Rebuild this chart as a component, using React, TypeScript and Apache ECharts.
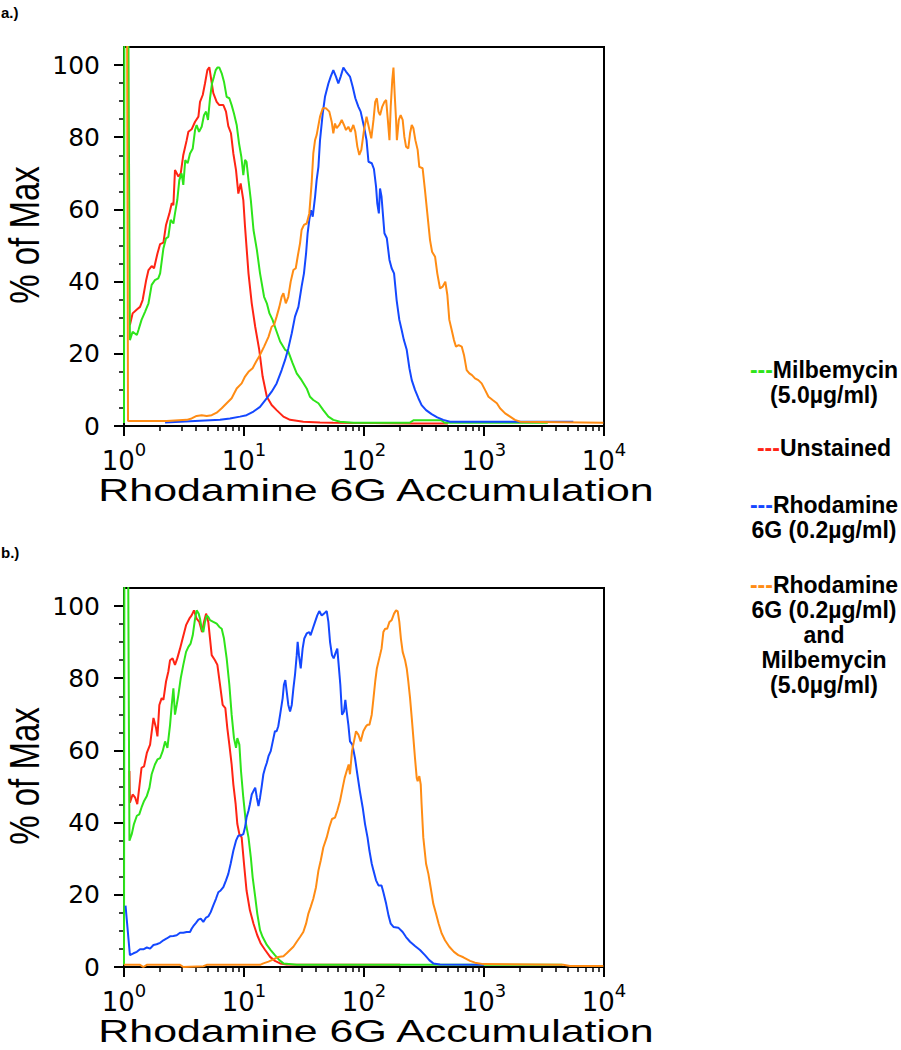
import React, { useEffect, useRef } from "react";
import * as echarts from "echarts";

// ---------- data (x = fluorescence, y = % of max) ----------
const aUnstained: [number, number][] = [
  [1.12, 28.0], [1.18, 31.2], [1.28, 32.3], [1.36, 33.0], [1.43, 34.9], [1.53, 40.4], [1.6, 43.2], [1.7, 44.3], [1.78, 43.7], [1.9, 47.8],
  [2.0, 50.4], [2.13, 50.8], [2.24, 55.7], [2.39, 58.9], [2.5, 61.7], [2.58, 61.2], [2.66, 70.9], [2.84, 69.1], [2.97, 70.0], [3.12, 75.1],
  [3.33, 79.2], [3.44, 81.5], [3.66, 82.2], [3.91, 84.3], [4.17, 85.7], [4.3, 89.8], [4.53, 91.7], [4.73, 94.9], [4.95, 98.6], [5.14, 99.4],
  [5.34, 95.8], [5.55, 92.2], [5.92, 89.8], [6.23, 88.9], [6.73, 88.9], [7.08, 87.1], [7.4, 83.1], [7.79, 81.1], [8.15, 75.5], [8.58, 70.9],
  [8.97, 64.4], [9.38, 67.2], [9.87, 62.6], [10.2, 55.2], [10.9, 42.3], [11.6, 34.0], [12.4, 27.5], [13.4, 21.1], [14.3, 13.7], [15.5, 8.1],
  [17.0, 5.8], [18.7, 4.4], [21.3, 2.6], [24.2, 1.7], [31.2, 1.2], [43.0, 1.0], [55.5, 0.9], [120, 0.8], [250, 0.7], [500, 0.7],
];
const aMilbemycin: [number, number][] = [
  [1.0, 0.8], [1.02, 300], [1.12, 23.8], [1.18, 26.1], [1.28, 25.2], [1.32, 26.6], [1.4, 29.4], [1.5, 31.7], [1.6, 34.0], [1.7, 39.1],
  [1.81, 40.4], [1.93, 40.9], [2.0, 42.3], [2.13, 49.2], [2.24, 52.0], [2.34, 52.4], [2.45, 57.1], [2.58, 56.1], [2.66, 58.9], [2.78, 62.6],
  [2.89, 68.1], [3.02, 70.0], [3.12, 66.8], [3.24, 73.7], [3.39, 72.8], [3.55, 75.5], [3.74, 76.9], [3.91, 82.0], [4.03, 83.4], [4.22, 81.5],
  [4.44, 82.9], [4.64, 86.1], [4.83, 87.1], [5.01, 84.8], [5.21, 90.8], [5.41, 94.9], [5.62, 96.8], [5.81, 98.6], [6.0, 99.3], [6.23, 99.3],
  [6.52, 97.7], [6.81, 95.4], [7.17, 91.2], [7.55, 90.8], [7.89, 88.9], [8.25, 86.6], [8.69, 83.4], [9.09, 78.3], [9.5, 74.6], [9.87, 69.5],
  [10.2, 73.7], [10.5, 73.2], [10.9, 68.1], [11.4, 62.6], [12.0, 54.3], [12.8, 48.8], [13.6, 42.3], [14.7, 35.8], [15.5, 34.0], [16.3, 31.2],
  [17.3, 29.4], [18.5, 26.6], [20.0, 23.4], [22.0, 21.1], [23.4, 20.6], [25.4, 17.4], [27.5, 14.6], [30.2, 12.7], [33.3, 10.4], [35.5, 8.1],
  [37.8, 7.2], [41.7, 6.3], [45.8, 4.4], [50.5, 2.6], [55.5, 1.7], [63.1, 1.2], [81.5, 0.9], [240, 0.9], [260, 1.6], [440, 1.6],
  [470, 0.9], [3400, 0.9],
];
const aRhodamine: [number, number][] = [
  [2.2, 1.0], [6.31, 1.7], [7.64, 2.1], [9.26, 2.6], [10.5, 3.0], [12.0, 4.0], [13.6, 5.3], [15.5, 7.7], [17.0, 9.5], [18.7, 11.8],
  [20.6, 15.5], [22.0, 18.3], [23.4, 21.5], [25.0, 25.7], [26.6, 30.3], [28.4, 33.0], [30.2, 38.6], [31.6, 42.3], [32.9, 47.8], [33.9, 53.4],
  [35.0, 57.1], [36.2, 59.8], [37.4, 58.0], [39.1, 63.5], [40.3, 68.1], [41.7, 71.8], [43.0, 79.2], [45.3, 86.6], [47.3, 91.2], [50.5, 94.9],
  [52.8, 96.8], [55.5, 98.6], [58.4, 96.8], [61.1, 94.9], [63.9, 96.8], [67.3, 99.3], [70.8, 98.2], [76.4, 96.8], [80.5, 94.0], [84.7, 90.8],
  [89.7, 88.5], [93.8, 87.1], [100, 82.9], [105, 79.2], [109, 73.2], [116, 72.8], [121, 71.2], [126, 66.3], [129, 61.7], [133, 58.9],
  [136, 65.8], [140, 63.5], [145, 57.1], [148, 53.4], [155, 52.0], [163, 46.0], [170, 43.7], [178, 42.3], [187, 34.9], [197, 29.4],
  [206, 26.6], [215, 23.8], [227, 21.1], [239, 16.0], [250, 12.7], [266, 10.0], [284, 7.7], [302, 5.8], [329, 4.4], [366, 3.3],
  [408, 2.4], [458, 1.7], [521, 1.2], [1280, 1.2], [3440, 1.2], [5550, 1.2],
];
const aCombined: [number, number][] = [
  [1.03, 300], [1.08, 1.4], [2.27, 1.4], [3.33, 1.7], [3.66, 2.1], [4.03, 2.8], [4.44, 3.0], [4.89, 2.8], [5.38, 3.0], [5.92, 3.7],
  [6.52, 4.9], [7.17, 6.3], [7.89, 7.7], [8.69, 10.4], [9.56, 11.8], [10.2, 13.7], [10.9, 15.0], [11.8, 16.0], [12.6, 17.8], [13.6, 19.7],
  [14.7, 22.0], [16.0, 24.7], [17.0, 27.5], [17.8, 28.0], [18.7, 30.3], [19.7, 33.0], [20.6, 35.8], [21.3, 36.8], [22.3, 34.0], [23.4, 35.8],
  [24.5, 40.0], [25.8, 43.2], [27.0, 43.7], [28.0, 46.9], [29.3, 50.6], [30.2, 54.3], [31.6, 55.7], [33.3, 56.1], [35.0, 58.9], [36.6, 67.2],
  [37.8, 75.5], [39.1, 79.2], [40.3, 80.6], [43.0, 85.7], [45.3, 88.0], [48.3, 88.0], [51.4, 87.1], [53.8, 84.3], [55.5, 81.1], [57.3, 83.8],
  [59.2, 82.5], [62.3, 83.4], [65.2, 84.8], [68.1, 83.4], [70.8, 82.0], [74.1, 82.9], [77.4, 81.5], [81.5, 83.4], [84.7, 81.5], [88.0, 77.4],
  [91.4, 75.1], [95.0, 76.5], [100, 82.0], [105, 85.7], [111, 82.0], [115, 79.7], [120, 84.8], [124, 89.8], [128, 90.8], [132, 87.1],
  [136, 86.1], [142, 88.5], [148, 89.8], [153, 90.3], [158, 84.8], [163, 79.2], [167, 88.5], [172, 95.8], [176, 99.3], [180, 92.2],
  [185, 84.8], [188, 79.2], [195, 84.8], [202, 86.1], [210, 84.8], [217, 80.1], [224, 77.4], [234, 76.9], [242, 81.1], [250, 83.4],
  [258, 82.5], [268, 79.2], [280, 76.5], [289, 71.8], [308, 71.4], [322, 65.4], [337, 58.9], [355, 51.5], [369, 48.3], [391, 46.9],
  [408, 42.3], [430, 38.1], [452, 38.6], [476, 40.0], [495, 36.3], [514, 29.4], [538, 26.6], [562, 23.8], [584, 22.0], [615, 22.4],
  [652, 22.0], [681, 19.7], [717, 15.5], [755, 14.6], [794, 14.1], [841, 13.2], [897, 12.7], [956, 11.8], [1020, 10.0], [1090, 8.1],
  [1180, 7.2], [1280, 6.3], [1360, 4.9], [1500, 3.5], [1650, 2.6], [1810, 1.7], [2000, 1.2], [9870, 0.9],
];

const bUnstained: [number, number][] = [
  [1.11, 54.3], [1.12, 45.5], [1.18, 47.8], [1.24, 46.9], [1.29, 45.1], [1.34, 49.7], [1.4, 55.2], [1.47, 55.6], [1.55, 59.3], [1.65, 61.6],
  [1.76, 69.0], [1.85, 66.2], [1.9, 63.9], [1.97, 72.6], [2.06, 74.5], [2.13, 74.0], [2.24, 79.1], [2.34, 81.8], [2.42, 85.0], [2.54, 85.5],
  [2.66, 83.7], [2.78, 85.5], [2.93, 88.2], [3.08, 91.0], [3.29, 94.7], [3.5, 96.5], [3.66, 97.4], [3.83, 98.8], [4.03, 96.5], [4.24, 95.6],
  [4.47, 92.8], [4.64, 95.6], [4.83, 97.9], [5.04, 95.6], [5.21, 91.0], [5.38, 86.4], [5.73, 85.0], [6.0, 83.7], [6.31, 78.2], [6.64, 72.6],
  [6.99, 71.7], [7.26, 66.2], [7.55, 61.6], [7.89, 56.1], [8.15, 50.6], [8.52, 45.1], [8.8, 39.6], [9.15, 36.8], [9.56, 35.9], [10.0, 28.6],
  [10.5, 21.2], [11.2, 15.7], [12.0, 12.0], [12.9, 8.8], [13.8, 6.5], [15.0, 4.7], [16.5, 2.8], [18.1, 1.7], [20.0, 1.0], [22.7, 0.7],
  [200, 0.6],
];
const bMilbemycin: [number, number][] = [
  [1.0, 0.6], [1.02, 300], [1.11, 35.0], [1.16, 36.8], [1.21, 39.6], [1.28, 41.9], [1.34, 42.3], [1.4, 44.2], [1.47, 46.0], [1.55, 47.4],
  [1.63, 49.7], [1.7, 53.4], [1.81, 56.1], [1.9, 57.5], [2.0, 57.9], [2.1, 59.8], [2.2, 62.5], [2.3, 60.7], [2.42, 67.1], [2.5, 72.6],
  [2.58, 77.2], [2.66, 69.9], [2.75, 72.6], [2.84, 75.4], [2.97, 80.0], [3.12, 83.7], [3.29, 87.3], [3.44, 88.7], [3.59, 89.6], [3.74, 91.9],
  [3.91, 96.5], [4.03, 98.8], [4.19, 97.9], [4.3, 96.5], [4.44, 93.7], [4.58, 92.8], [4.73, 95.6], [4.89, 97.4], [5.04, 97.0], [5.21, 96.1],
  [5.55, 95.6], [5.92, 95.1], [6.23, 94.2], [6.52, 93.7], [6.81, 91.0], [7.17, 85.5], [7.55, 78.2], [7.89, 69.9], [8.25, 63.4], [8.58, 60.7],
  [8.8, 63.4], [9.15, 61.6], [9.44, 54.3], [9.87, 46.9], [10.4, 39.6], [10.9, 35.9], [11.4, 30.4], [11.8, 24.9], [12.4, 19.4], [12.9, 14.8],
  [13.6, 10.2], [14.3, 8.3], [15.5, 6.1], [16.7, 4.7], [18.1, 3.3], [19.7, 1.9], [21.3, 1.0], [27.5, 0.6], [4500, 0.6],
];
const bRhodamine: [number, number][] = [
  [1.03, 17.0], [1.12, 3.3], [1.2, 3.8], [1.28, 4.2], [1.36, 4.9], [1.45, 4.9], [1.55, 5.4], [1.65, 5.1], [1.76, 6.1], [1.87, 6.3],
  [2.0, 6.7], [2.13, 7.4], [2.27, 7.9], [2.42, 8.5], [2.58, 8.6], [2.75, 8.8], [2.93, 9.5], [3.12, 9.5], [3.33, 9.7], [3.55, 9.7],
  [3.66, 10.6], [3.78, 11.3], [3.98, 12.2], [4.17, 13.1], [4.36, 13.4], [4.58, 12.5], [4.83, 13.7], [5.04, 14.0], [5.28, 15.2], [5.55, 17.1],
  [5.84, 18.9], [6.11, 20.7], [6.39, 21.2], [6.73, 22.1], [7.08, 24.0], [7.4, 25.8], [7.74, 28.6], [8.15, 32.2], [8.58, 35.0], [8.97, 36.4],
  [9.38, 36.4], [9.87, 36.8], [10.2, 38.7], [10.5, 41.4], [10.9, 43.3], [11.2, 45.1], [11.6, 47.8], [12.0, 48.8], [12.4, 49.7], [12.8, 46.9],
  [13.2, 44.6], [13.6, 46.9], [14.0, 49.7], [14.5, 53.4], [15.0, 55.2], [15.5, 56.6], [16.0, 58.4], [16.7, 59.8], [17.6, 63.4], [18.1, 65.3],
  [18.7, 65.3], [19.3, 66.7], [20.0, 69.9], [21.0, 74.5], [21.5, 78.2], [22.1, 79.5], [22.7, 76.3], [23.4, 72.6], [24.2, 70.8], [25.0, 72.6],
  [25.8, 77.2], [26.6, 80.9], [27.5, 86.4], [28.0, 90.1], [28.7, 86.4], [29.7, 82.7], [30.8, 88.2], [31.8, 91.0], [33.3, 92.4], [35.0, 92.8],
  [35.9, 91.9], [37.4, 93.7], [39.1, 95.6], [40.8, 97.4], [42.4, 98.6], [44.4, 97.4], [46.4, 97.9], [48.9, 98.6], [50.5, 95.6], [52.1, 90.1],
  [54.1, 86.4], [55.9, 85.5], [58.4, 87.3], [59.9, 88.2], [61.5, 83.7], [63.5, 78.2], [65.6, 69.9], [68.1, 70.8], [69.9, 74.0], [71.7, 70.8],
  [74.1, 67.1], [76.4, 62.5], [80.0, 61.6], [84.1, 57.9], [88.0, 53.4], [92.3, 48.8], [97.5, 44.2], [102, 39.6], [107, 35.9], [111, 32.2],
  [116, 28.6], [120, 26.7], [126, 24.0], [132, 22.6], [140, 22.6], [145, 20.7], [153, 17.5], [160, 14.3], [167, 12.0], [176, 11.1],
  [193, 10.9], [210, 9.7], [224, 8.3], [242, 7.0], [266, 5.8], [293, 4.7], [322, 3.3], [350, 1.9], [378, 1.0], [430, 0.7], [1000, 0.6],
];
const bCombined: [number, number][] = [
  [1.0, 0.6], [1.36, 0.6], [1.45, 0.0], [1.55, 0.6], [2.93, 0.6], [3.12, 0.0], [4.58, 0.2], [4.89, 0.6], [13.6, 0.6], [14.5, 1.0],
  [16.0, 1.5], [17.6, 2.1], [19.3, 2.8], [21.3, 3.0], [22.7, 3.8], [24.2, 4.7], [25.8, 5.6], [27.5, 7.0], [29.3, 8.3], [31.2, 9.7],
  [32.9, 12.0], [34.4, 14.8], [35.9, 16.6], [37.8, 18.9], [39.8, 22.1], [41.7, 26.7], [43.6, 29.5], [45.8, 33.1], [48.9, 35.9], [51.4, 38.7],
  [54.1, 41.0], [57.3, 41.4], [59.9, 43.3], [63.1, 46.0], [66.4, 49.7], [69.0, 52.4], [71.7, 54.3], [74.5, 56.1], [76.4, 53.4], [79.4, 59.8],
  [82.5, 62.5], [85.8, 65.3], [89.7, 64.4], [93.8, 62.5], [98.7, 65.3], [104, 66.7], [107, 67.1], [111, 67.1], [116, 69.9], [120, 74.5],
  [124, 79.1], [128, 82.7], [132, 84.6], [136, 86.4], [140, 88.2], [145, 92.8], [150, 93.7], [156, 93.7], [163, 95.6], [170, 96.1],
  [178, 97.9], [185, 98.8], [191, 98.5], [197, 95.6], [203, 91.0], [210, 87.3], [220, 85.0], [227, 82.7], [234, 79.1], [242, 74.5],
  [250, 69.0], [258, 63.4], [266, 57.9], [275, 52.4], [280, 51.5], [289, 52.9], [297, 50.6], [302, 45.1], [312, 35.9], [329, 28.6],
  [344, 25.8], [359, 22.1], [378, 17.5], [398, 14.8], [419, 12.0], [444, 9.3], [473, 7.4], [514, 5.6], [562, 4.2], [611, 3.3],
  [673, 2.7], [764, 1.7], [841, 1.2], [987, 0.8], [4580, 0.6], [5210, 0.3], [9870, 0.3],
];

const yTickValues = [0, 20, 40, 60, 80, 100];
const yMinorValues = [5, 10, 15, 25, 30, 35, 45, 50, 55, 65, 70, 75, 85, 90, 95];
const xMinorMultipliers = [2, 3, 4, 5, 6, 7, 8, 9];
const xDecades = [0, 1, 2, 3];

const seriesNames = ["Unstained", "Milbemycin", "Rhodamine", "Combined"];
const seriesColors = ["#ff2414", "#2ee41a", "#1448ff", "#ff8c14"];

const legendLines: { dash: number; text: string }[] = [
  { dash: 1, text: "Milbemycin" },
  { dash: -1, text: "(5.0µg/ml)" },
  { dash: 0, text: "Unstained" },
  { dash: 2, text: "Rhodamine" },
  { dash: -1, text: "6G (0.2µg/ml)" },
  { dash: 3, text: "Rhodamine" },
  { dash: -1, text: "6G (0.2µg/ml)" },
  { dash: -1, text: "and" },
  { dash: -1, text: "Milbemycin" },
  { dash: -1, text: "(5.0µg/ml)" },
];
const legendYs = [370, 395, 448, 505, 530, 585, 610, 635, 660, 685];

const TICK_FONT = "DejaVu Sans";
const SANS = "Liberation Sans";

export default function App() {
  const ref = useRef<HTMLDivElement>(null);

  useEffect(() => {
    document.body.style.margin = "0";
    if (!ref.current) return;
    const chart = echarts.init(ref.current, undefined, { renderer: "svg" });

    const gridTops = [47, 588];
    const xMinorTicks: number[] = [];
    xDecades.forEach((d) => xMinorMultipliers.forEach((m) => xMinorTicks.push(d + Math.log10(m))));

    const grids = gridTops.map((top) => ({
      left: 124,
      top,
      width: 480,
      height: 379,
      show: true,
      borderColor: "#000",
      borderWidth: 2,
      backgroundColor: "transparent",
    }));

    const axisLine = { show: true, onZero: false, lineStyle: { color: "#000", width: 2 } };

    const xAxes: any[] = [];
    const yAxes: any[] = [];
    gridTops.forEach((_, g) => {
      xAxes.push({
        type: "log",
        logBase: 10,
        gridIndex: g,
        min: 1,
        max: 10000,
        position: "bottom",
        axisLine,
        axisTick: { show: true, inside: false, length: 10, lineStyle: { color: "#000", width: 2 } },
        axisLabel: {
          margin: 14,
          color: "#000",
          formatter: (v: number) => `{b|10}{s|${Math.round(Math.log10(v))}}`,
          rich: {
            b: { fontSize: 26, fontFamily: TICK_FONT, color: "#000", lineHeight: 34, verticalAlign: "bottom" },
            s: { fontSize: 18, fontFamily: TICK_FONT, color: "#000", lineHeight: 18, verticalAlign: "top" },
          },
        },
        splitLine: { show: false },
      });
      xAxes.push({
        type: "value",
        gridIndex: g,
        min: 0,
        max: 4,
        interval: 1,
        position: "bottom",
        axisLine,
        axisTick: { show: true, inside: false, length: 5, customValues: xMinorTicks, lineStyle: { color: "#000", width: 1.5 } },
        axisLabel: { show: false },
        splitLine: { show: false },
      });
      yAxes.push({
        type: "value",
        gridIndex: g,
        min: 0,
        max: 105,
        position: "left",
        axisLine,
        axisTick: { show: true, inside: false, length: 10, customValues: yTickValues, lineStyle: { color: "#000", width: 2 } },
        axisLabel: { customValues: yTickValues, margin: 24, fontSize: 25, fontFamily: TICK_FONT, color: "#000" },
        splitLine: { show: false },
      });
      yAxes.push({
        type: "value",
        gridIndex: g,
        min: 0,
        max: 105,
        interval: 5,
        position: "left",
        axisLine,
        axisTick: { show: true, inside: false, length: 5, customValues: yMinorValues, lineStyle: { color: "#000", width: 1.5 } },
        axisLabel: { show: false },
        splitLine: { show: false },
      });
    });

    const panelData = [
      [aUnstained, aMilbemycin, aRhodamine, aCombined],
      [bUnstained, bMilbemycin, bRhodamine, bCombined],
    ];
    const series: any[] = [];
    panelData.forEach((sets, g) => {
      sets.forEach((data, i) => {
        series.push({
          name: seriesNames[i],
          type: "line",
          xAxisIndex: g * 2,
          yAxisIndex: g * 2,
          data,
          showSymbol: false,
          symbol: "none",
          clip: true,
          lineStyle: { width: 2, color: seriesColors[i] },
          itemStyle: { color: seriesColors[i] },
          z: 2 + i,
        });
      });
    });

    const graphics: any[] = [];
    const panelLabels = [
      { t: "a.)", y: 12 },
      { t: "b.)", y: 552 },
    ];
    panelLabels.forEach((p) =>
      graphics.push({
        type: "text",
        x: 1,
        y: p.y,
        style: {
          text: p.t,
          font: `bold 15px "${SANS}"`,
          fill: "#000",
          textAlign: "left",
          align: "left",
          textVerticalAlign: "middle",
          verticalAlign: "middle",
        },
      })
    );
    gridTops.forEach((top) => {
      graphics.push({
        type: "text",
        x: 376,
        y: top + 379 + 64,
        scaleX: 1.34,
        style: {
          text: "Rhodamine 6G Accumulation",
          font: `32px "${SANS}"`,
          fill: "#000",
          textAlign: "center",
          align: "center",
          textVerticalAlign: "middle",
          verticalAlign: "middle",
        },
      });
      graphics.push({
        type: "text",
        x: 24,
        y: top + 188,
        rotation: Math.PI / 2,
        scaleY: 1.3,
        style: {
          text: "% of Max",
          font: `33px "${SANS}"`,
          fill: "#000",
          textAlign: "center",
          align: "center",
          textVerticalAlign: "middle",
          verticalAlign: "middle",
        },
      });
    });
    legendLines.forEach((ln, i) => {
      const text = ln.dash >= 0 ? `{d${ln.dash}|---}{t|${ln.text}}` : `{t|${ln.text}}`;
      const rich: any = {
        t: { fontSize: 23, fontWeight: "bold", fontFamily: SANS, fill: "#000", color: "#000" },
      };
      seriesColors.forEach((c, k) => {
        rich["d" + k] = { fontSize: 23, fontWeight: "bold", fontFamily: SANS, fill: c, color: c };
      });
      graphics.push({
        type: "text",
        x: 824,
        y: legendYs[i],
        style: {
          text,
          rich,
          font: `bold 23px "${SANS}"`,
          fill: "#000",
          textAlign: "center",
          align: "center",
          textVerticalAlign: "middle",
          verticalAlign: "middle",
        },
      });
    });

    chart.setOption({
      animation: false,
      backgroundColor: "#fff",
      grid: grids,
      xAxis: xAxes,
      yAxis: yAxes,
      series,
      graphic: { elements: graphics },
    });

    return () => chart.dispose();
  }, []);

  return <div ref={ref} style={{ width: 901, height: 1050 }} />;
}
